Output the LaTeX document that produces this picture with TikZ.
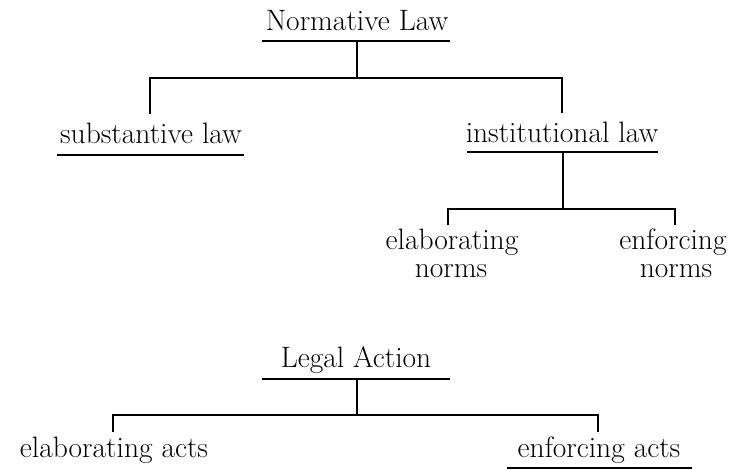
\documentclass[tikz,border=0pt]{standalone}
\begin{document}
\begin{tikzpicture}[x=1pt,y=-1pt,
  lbl/.style={inner sep=0pt, anchor=base, font=\fontsize{29.5}{34}\selectfont},
  ln/.style={line width=1.8pt, line join=miter}]
\useasboundingbox (0,0) rectangle (744,469);
% ---------- Normative Law ----------
\node[lbl] (nl) at (357,30) {Normative Law};
\coordinate (nlL) at (262,41); \coordinate (nlR) at (450,41);
\coordinate (nlS) at (357,41); \coordinate (j1) at (357,78);
\coordinate (j1L) at (150,78); \coordinate (j1R) at (562,78);
\coordinate (d1L) at (150,114); \coordinate (d1R) at (562,113);
\draw[ln] (nlL) -- (nlR);
\draw[ln] (nlS) -- (j1);
\draw[ln] (d1L) -- (j1L) -- (j1R) -- (d1R);
% substantive law
\node[lbl] (sl) at (151,143) {substantive law};
\coordinate (slL) at (57,155); \coordinate (slR) at (244,155);
\draw[ln] (slL) -- (slR);
% institutional law
\node[lbl] (il) at (562,142) {institutional law};
\coordinate (ilL) at (467,152); \coordinate (ilR) at (658,152);
\coordinate (ilS) at (563,152); \coordinate (j2) at (563,209);
\coordinate (j2L) at (448,209); \coordinate (j2R) at (675,209);
\coordinate (d2L) at (448,225); \coordinate (d2R) at (675,225);
\draw[ln] (ilL) -- (ilR);
\draw[ln] (ilS) -- (j2);
\draw[ln] (d2L) -- (j2L) -- (j2R) -- (d2R);
% elaborating / enforcing norms
\node[lbl] (ena) at (452,249) {elaborating};
\node[lbl] (enb) at (451,277) {norms};
\node[lbl] (fna) at (673,249) {enforcing};
\node[lbl] (fnb) at (676,277) {norms};
% ---------- Legal Action ----------
\node[lbl] (la) at (356,367) {Legal Action};
\coordinate (laL) at (262,379); \coordinate (laR) at (450,379);
\coordinate (laS) at (357,379); \coordinate (j3) at (357,415);
\coordinate (j3L) at (113,415); \coordinate (j3R) at (598,415);
\coordinate (d3L) at (113,432); \coordinate (d3R) at (598,432);
\draw[ln] (laL) -- (laR);
\draw[ln] (laS) -- (j3);
\draw[ln] (d3L) -- (j3L) -- (j3R) -- (d3R);
\node[lbl] (ea) at (114,457) {elaborating acts};
\node[lbl] (fa) at (599,457) {enforcing acts};
\coordinate (faL) at (507,468); \coordinate (faR) at (692,468);
\draw[ln] (faL) -- (faR);
\end{tikzpicture}
\end{document}
